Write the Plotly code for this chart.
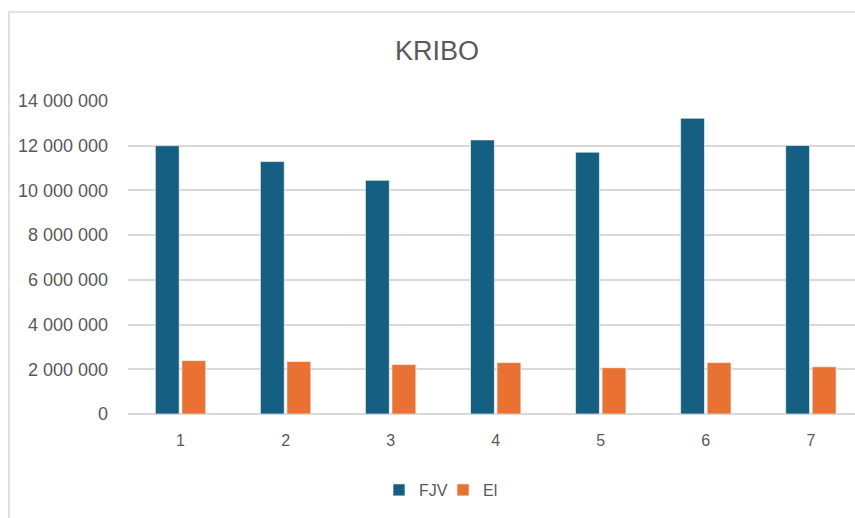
import plotly.graph_objects as go

# Monthly values for KRIBO
categories = ["1", "2", "3", "4", "5", "6", "7"]
fjv = [12000000, 11290000, 10450000, 12260000, 11710000, 13230000, 12010000]
el = [2390000, 2350000, 2210000, 2300000, 2070000, 2300000, 2110000]

y_tickvals = [0, 2000000, 4000000, 6000000, 8000000, 10000000, 12000000, 14000000]
y_ticktext = ["0", "2 000 000", "4 000 000", "6 000 000", "8 000 000",
              "10 000 000", "12 000 000", "14 000 000"]

W, H = 855, 518
ML, MR, MT, MB = 128, 0, 101, 104
plot_w = W - ML - MR
plot_h = H - MT - MB

text_color = "#595959"
grid_color = "#d9d9d9"
font_family = "Liberation Sans, Arial, sans-serif"

fig = go.Figure()
fig.add_trace(go.Bar(
    name="FJV", x=categories, y=fjv,
    marker=dict(color="#156082", line=dict(color="rgba(255,255,255,0.6)", width=1)),
))
fig.add_trace(go.Bar(
    name="El", x=categories, y=el,
    marker=dict(color="#E97132", line=dict(color="rgba(255,255,255,0.6)", width=1)),
))

# light frame around the chart
fig.add_shape(
    type="rect", xref="paper", yref="paper",
    x0=(9 - ML) / plot_w, x1=1.02,
    y0=-0.6, y1=(H - MB - 12) / plot_h,
    line=dict(color=grid_color, width=1.5), layer="below",
)

fig.update_layout(
    width=W, height=H,
    margin=dict(l=ML, r=MR, t=MT, b=MB, pad=0),
    paper_bgcolor="white", plot_bgcolor="white",
    barmode="group", bargap=0.495, bargroupgap=0.1,
    font=dict(family=font_family, color=text_color, size=17),
    title=dict(
        text="KRIBO", x=437 / W, xanchor="center",
        y=1 - 51 / H, yanchor="middle", yref="container",
        font=dict(size=27, color=text_color, family=font_family),
    ),
    xaxis=dict(
        type="category", range=[-0.5, 6.42],
        showgrid=False, showline=False, ticks="",
        tickfont=dict(size=16, color=text_color),
        ticklabelstandoff=15,
    ),
    yaxis=dict(
        range=[0, 14000000], tickvals=y_tickvals, ticktext=y_ticktext,
        showgrid=True, gridcolor=grid_color, gridwidth=1.5,
        zeroline=True, zerolinecolor=grid_color, zerolinewidth=1.5,
        showline=False, ticks="", ticklabelstandoff=19,
        tickfont=dict(size=18, color=text_color),
    ),
    legend=dict(
        orientation="h", x=(379 - ML) / plot_w, xanchor="left",
        y=(H - MB - 490) / plot_h, yanchor="middle",
        font=dict(size=16, color=text_color),
        itemwidth=30, entrywidth=19, entrywidthmode="pixels",
        traceorder="normal",
    ),
    showlegend=True,
)

fig.write_html("out.html")
